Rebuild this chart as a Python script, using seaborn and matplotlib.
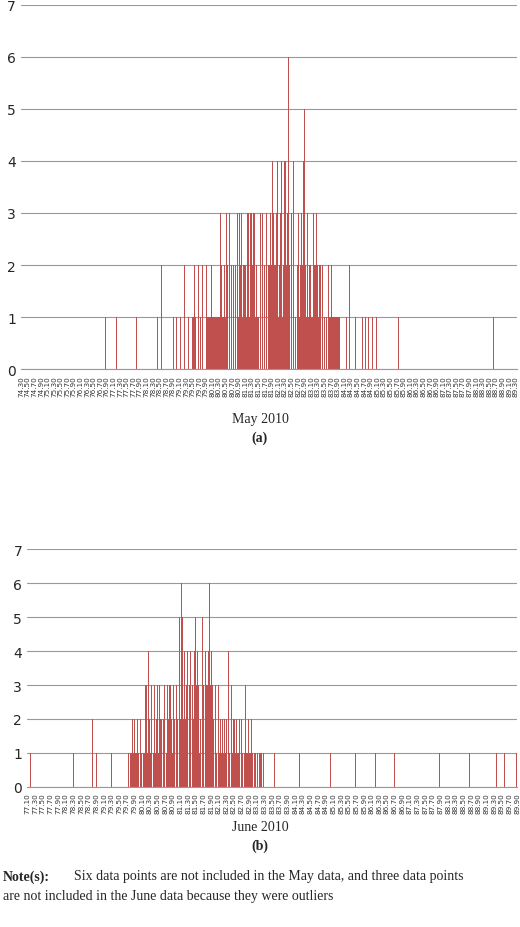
import numpy as np
import pandas as pd
import seaborn as sns
import matplotlib
matplotlib.use("Agg")
import matplotlib.pyplot as plt

sns.set_style("white")
plt.rcParams['font.family'] = ['DejaVu Sans']

RED = "#C0504D"

# ---- May 2010 ----
may_start, may_end = 74.30, 89.34
may_dense_start = 79.50
may_dense = ("11021101120111021102" "12111211121311211211" "21322131211322213122"
             "31232213321312331232" "23132312331232313212" "13232131223132321232"
             "24132423141323241324" "14253642153424251312" "23152312415231321232"
             "12131221321121211231" "11211121111211111111" "1111")
may_sparse_x = [74.36, 76.42, 76.86, 77.20, 77.72, 77.80, 78.44, 78.56, 78.72, 78.84, 78.92,
                79.02, 79.14, 79.26, 79.38, 84.06, 84.16, 84.26, 84.36, 84.44, 84.54, 84.66,
                84.74, 84.84, 84.96, 85.08, 85.30, 85.74, 86.28, 87.22, 87.28, 87.34, 88.62]
may_sparse_c = [1, 1, 1, 1, 1, 1, 1, 2, 1, 1, 1,
                1, 1, 2, 1, 1, 1, 2, 1, 1, 1, 1,
                1, 1, 1, 1, 2, 1, 1, 1, 1, 1, 1]

# ---- June 2010 ----
jun_start, jun_end = 77.10, 89.90
jun_dense_start = 79.80
jun_dense = ("11211212121322132113" "23143213221312231232" "21323231322332313231"
             "32435263524323453342" "43243534231243534243" "35463243232313231231"
             "21321232412131212121" "11211211213111211121" "111111101111011")
jun_sparse_x = [77.18, 78.30, 78.80, 78.90, 79.00, 79.30, 79.36, 79.52, 79.60, 79.68, 79.74,
                83.44, 83.56, 83.70, 83.78, 84.22, 84.62, 85.02, 85.32, 85.68, 86.20, 86.70,
                86.84, 87.88, 88.66, 88.72, 89.36, 89.58, 89.88]
jun_sparse_c = [1, 1, 2, 1, 2, 1, 1, 2, 1, 1, 1,
                1, 1, 1, 1, 1, 1, 1, 1, 1, 1, 1,
                1, 1, 1, 1, 1, 1, 1]


def build(start, end, dstart, dense, sx, sc):
    grid = np.round(np.arange(start, end + 0.001, 0.02), 2)
    counts = np.zeros(len(grid))
    d0 = int(round((dstart - start) / 0.02))
    for i, ch in enumerate(dense):
        counts[d0 + i] = int(ch)
    for x, c in zip(sx, sc):
        counts[int(round((x - start) / 0.02))] = c
    return grid, counts


def draw(ax, grid, counts):
    df = pd.DataFrame({"pos": np.arange(len(grid)), "n": counts})
    sns.barplot(data=df, x="pos", y="n", native_scale=True, width=0.85,
                color=RED, saturation=1, linewidth=0, ax=ax)
    ax.set_xlim(-0.5, len(grid) - 0.5)
    ax.set_ylim(0, 7)
    ax.set_yticks(range(8))
    ax.yaxis.grid(True, color="#999999", linewidth=0.8)
    ax.set_axisbelow(True)
    ticks = np.arange(0, len(grid), 10)
    ax.set_xticks(ticks)
    ax.set_xticklabels([f"{grid[t]:.2f}" for t in ticks], rotation=90, fontsize=5.2, color="#333333")
    ax.tick_params(axis="x", length=3, color="#999999", pad=1)
    ax.tick_params(axis="y", labelsize=10, length=0)
    ax.set_xlabel("")
    ax.set_ylabel("")
    for s in ["top", "right", "left"]:
        ax.spines[s].set_visible(False)
    ax.spines["bottom"].set_color("#999999")


fig = plt.figure(figsize=(5.2, 9.28), dpi=100)
ax1 = fig.add_axes([0.040, 0.601, 0.955, 0.393])
draw(ax1, *build(may_start, may_end, may_dense_start, may_dense, may_sparse_x, may_sparse_c))
ax2 = fig.add_axes([0.052, 0.151, 0.943, 0.256])
draw(ax2, *build(jun_start, jun_end, jun_dense_start, jun_dense, jun_sparse_x, jun_sparse_c))

serif = "Liberation Serif"
fig.text(0.5, 1 - 420 / 928, "May 2010", ha="center", va="center", family=serif, fontsize=10)
fig.text(0.5, 1 - 438 / 928, "(a)", ha="center", va="center", family=serif, fontsize=10, weight="bold")
fig.text(0.5, 1 - 828 / 928, "June 2010", ha="center", va="center", family=serif, fontsize=10)
fig.text(0.5, 1 - 846 / 928, "(b)", ha="center", va="center", family=serif, fontsize=10, weight="bold")
fig.text(0.006, 1 - 877 / 928, "Note(s):", ha="left", va="center", family=serif, fontsize=10, weight="bold")
fig.text(0.142, 1 - 877 / 928, "Six data points are not included in the May data, and three data points",
         ha="left", va="center", family=serif, fontsize=10)
fig.text(0.006, 1 - 897 / 928, "are not included in the June data because they were outliers",
         ha="left", va="center", family=serif, fontsize=10)

fig.savefig("out.png", dpi=100)
